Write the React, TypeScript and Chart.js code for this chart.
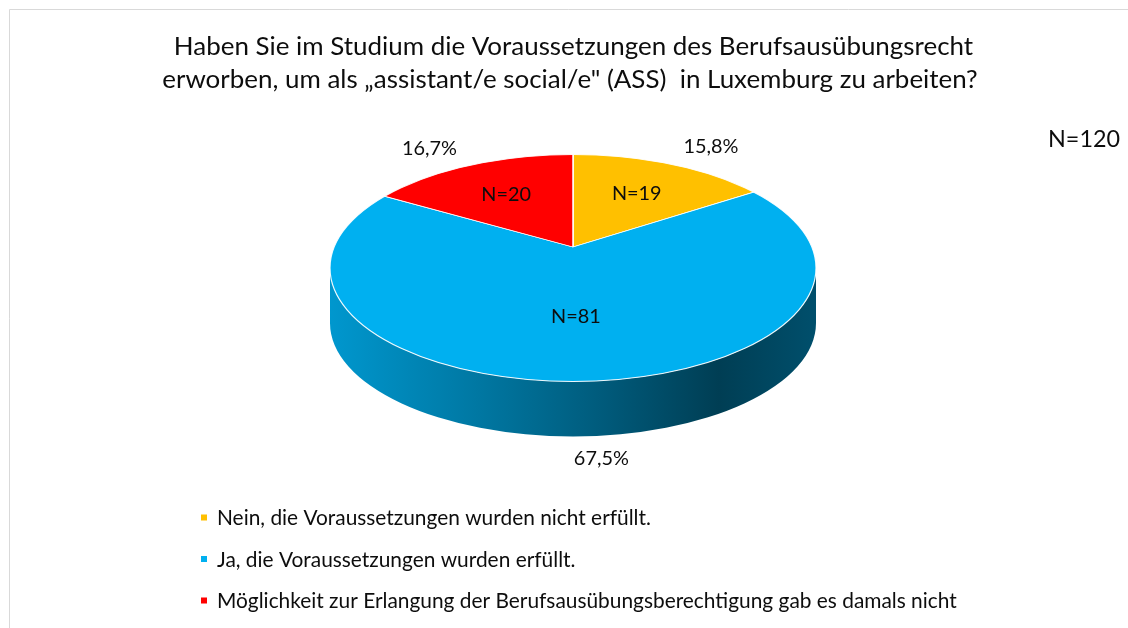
import React, { useEffect, useRef } from "react";
import { Chart, registerables } from "chart.js";

Chart.register(...registerables);

// ---------- data ----------
const titleLines = [
  "Haben Sie im Studium die Voraussetzungen des Berufsausübungsrecht",
  "erworben, um als „assistant/e social/e\" (ASS)  in Luxemburg zu arbeiten?",
];
const categories = [
  "Nein, die Voraussetzungen wurden nicht erfüllt.",
  "Ja, die Voraussetzungen wurden erfüllt.",
  "Möglichkeit zur Erlangung der Berufsausübungsberechtigung gab es damals nicht",
];
const counts = [19, 81, 20];
const sliceColors = ["#FFC000", "#00B0F0", "#FF0000"];

const total = counts.reduce((a, b) => a + b, 0);
const percentLabels = counts.map((v) => (Math.round((v / total) * 1000) / 10).toFixed(1).replace(".", ",") + "%");
const countLabels = counts.map((v) => "N=" + v);
const totalLabel = "N=" + total;

// ---------- style / geometry ----------
const FONT = "Lato, 'Open Sans', sans-serif";
const TEXT_COLOR = "#0d0d0d";
const RX = 243; // horizontal radius of the top face
const RY = 113.5; // vertical radius of the top face
const KY = RY / RX; // vertical squash
const VOFF = 21; // perspective: ellipse centre lies below the slice vertex
const DEPTH = 55; // thickness of the pie

function fitSize(ctx: CanvasRenderingContext2D, text: string, width: number) {
  ctx.font = `100px ${FONT}`;
  const w = ctx.measureText(text).width;
  return (100 * width) / w;
}

function shade(hex: string, f: number) {
  const n = parseInt(hex.slice(1), 16);
  const r = Math.round(((n >> 16) & 255) * f);
  const g = Math.round(((n >> 8) & 255) * f);
  const b = Math.round((n & 255) * f);
  return `rgb(${r},${g},${b})`;
}

function drawCentered(ctx: CanvasRenderingContext2D, text: string, x: number, yc: number, size: number) {
  ctx.font = `${size}px ${FONT}`;
  const cap = ctx.measureText("N").actualBoundingBoxAscent;
  ctx.textAlign = "center";
  ctx.textBaseline = "alphabetic";
  ctx.fillText(text, x, yc + cap / 2);
}

// ellipse parameter where a ray from the vertex at chart-angle theta meets the rim
function rimParam(theta: number) {
  const dx = Math.cos(theta);
  const dy = KY * Math.sin(theta);
  const oy = -VOFF; // vertex relative to ellipse centre
  const a = (dx / RX) ** 2 + (dy / RY) ** 2;
  const b = (2 * oy * dy) / (RY * RY);
  const c = (oy / RY) ** 2 - 1;
  const t = (-b + Math.sqrt(b * b - 4 * a * c)) / (2 * a);
  const px = dx * t;
  const py = oy + dy * t;
  let phi = Math.atan2(py / RY, px / RX);
  while (phi - theta > Math.PI) phi -= 2 * Math.PI;
  while (theta - phi > Math.PI) phi += 2 * Math.PI;
  return phi;
}

const pie3d = {
  id: "pie3d",
  beforeDraw(chart: any) {
    const ctx = chart.ctx as CanvasRenderingContext2D;
    ctx.save();
    ctx.fillStyle = "#ffffff";
    ctx.fillRect(0, 0, chart.width, chart.height);
    ctx.strokeStyle = "#d9d9d9";
    ctx.lineWidth = 1;
    ctx.beginPath();
    ctx.moveTo(9.5, chart.height);
    ctx.lineTo(9.5, 9.5);
    ctx.lineTo(chart.width, 9.5);
    ctx.stroke();
    ctx.restore();
  },
  beforeDatasetsDraw(chart: any) {
    const ctx = chart.ctx as CanvasRenderingContext2D;
    const arcs = chart.getDatasetMeta(0).data as any[];
    chart.$pieSaved = false;
    if (!arcs.length) return;
    const { x: vx, y: vy } = arcs[0].getProps(["x", "y"], true);
    const ecx = vx;
    const ecy = vy + VOFF;
    // side wall
    arcs.forEach((arc, i) => {
      const { startAngle, endAngle } = arc.getProps(["startAngle", "endAngle"], true);
      const a0 = Math.max(rimParam(startAngle), 0);
      const a1 = Math.min(rimParam(endAngle), Math.PI);
      if (a1 <= a0) return;
      const base = sliceColors[i];
      const g = ctx.createLinearGradient(ecx - RX, 0, ecx + RX, 0);
      g.addColorStop(0, shade(base, 0.86));
      g.addColorStop(0.3, shade(base, 0.68));
      g.addColorStop(0.55, shade(base, 0.52));
      g.addColorStop(0.8, shade(base, 0.35));
      g.addColorStop(1, shade(base, 0.45));
      ctx.save();
      ctx.beginPath();
      ctx.ellipse(ecx, ecy, RX, RY, 0, a0, a1, false);
      ctx.ellipse(ecx, ecy + DEPTH, RX, RY, 0, a1, a0, true);
      ctx.closePath();
      ctx.fillStyle = g;
      ctx.fill();
      ctx.restore();
    });
    // top face: clip to rim ellipse, squash around the vertex
    ctx.save();
    ctx.beginPath();
    ctx.ellipse(ecx, ecy, RX, RY, 0, 0, Math.PI * 2);
    ctx.clip();
    ctx.translate(vx, vy);
    ctx.scale(1, KY);
    ctx.translate(-vx, -vy);
    chart.$pieSaved = true;
  },
  afterDatasetsDraw(chart: any) {
    const ctx = chart.ctx as CanvasRenderingContext2D;
    if (chart.$pieSaved) ctx.restore();
    chart.$pieSaved = false;
    const arcs = chart.getDatasetMeta(0).data as any[];
    if (!arcs.length) return;
    const { x: vx, y: vy } = arcs[0].getProps(["x", "y"], true);
    ctx.save();
    ctx.strokeStyle = "rgba(255,255,255,0.9)";
    ctx.lineWidth = 1.2;
    ctx.beginPath();
    ctx.ellipse(vx, vy + VOFF, RX, RY, 0, 0, Math.PI * 2);
    ctx.stroke();
    ctx.restore();
  },
  afterDraw(chart: any) {
    const ctx = chart.ctx as CanvasRenderingContext2D;
    const arcs = chart.getDatasetMeta(0).data as any[];
    ctx.save();
    ctx.fillStyle = TEXT_COLOR;

    // title
    const titleSize = fitSize(ctx, titleLines[1], 816);
    ctx.font = `${titleSize}px ${FONT}`;
    ctx.textAlign = "center";
    ctx.textBaseline = "alphabetic";
    ctx.fillText(titleLines[0], 573.5, 55);
    ctx.fillText(titleLines[1], 570, 88);

    // total
    const totalSize = fitSize(ctx, totalLabel, 72);
    ctx.font = `${totalSize}px ${FONT}`;
    ctx.textAlign = "right";
    ctx.fillText(totalLabel, 1120, 146.5);

    // slice labels
    const labelSize = fitSize(ctx, percentLabels[2], 55);
    if (arcs.length) {
      const { x: vx, y: vy } = arcs[0].getProps(["x", "y"], true);
      const cx = vx;
      const cy = vy + VOFF;
      arcs.forEach((arc, i) => {
        const { startAngle, endAngle } = arc.getProps(["startAngle", "endAngle"], true);
        const mid = (startAngle + endAngle) / 2;
        const c = Math.cos(mid);
        const s = Math.sin(mid);
        const big = endAngle - startAngle > Math.PI;
        const fx = big ? 0.45 : 0.55;
        const fy = big ? 0.42 : 0.75;
        ctx.fillStyle = TEXT_COLOR;
        drawCentered(ctx, countLabels[i], cx + RX * fx * c, cy + RY * fy * s, labelSize);
        // outside percentage
        const rimX = cx + RX * c;
        const rimY = cy + RY * s + (s > 0 ? DEPTH : 0);
        const ox = rimX + 22 * Math.sign(c);
        const oy = rimY + 22 * Math.sign(s);
        drawCentered(ctx, percentLabels[i], ox, oy, labelSize);
      });
    }

    // legend
    const legendSize = fitSize(ctx, categories[2], 740);
    const rows = [525, 566.5, 608];
    categories.forEach((cat, i) => {
      ctx.font = `${legendSize}px ${FONT}`;
      const cap = ctx.measureText("N").actualBoundingBoxAscent;
      ctx.fillStyle = sliceColors[i];
      ctx.fillRect(201, rows[i] - cap / 2 - 3, 6, 6);
      ctx.fillStyle = TEXT_COLOR;
      ctx.textAlign = "left";
      ctx.textBaseline = "alphabetic";
      ctx.fillText(cat, 217, rows[i]);
    });
    ctx.restore();
  },
};

export default function App() {
  const canvasRef = useRef<HTMLCanvasElement | null>(null);

  useEffect(() => {
    const canvas = canvasRef.current;
    if (!canvas) return;
    const chart = new Chart(canvas, {
      type: "pie",
      data: {
        labels: categories,
        datasets: [
          {
            data: counts,
            backgroundColor: sliceColors,
            borderColor: "#FFFFFF",
            borderWidth: 1.5,
            radius: 300,
          } as any,
        ],
      },
      options: {
        responsive: false,
        animation: false,
        events: [],
        layout: { padding: { left: 330, right: 312, top: 25, bottom: 159 } },
        plugins: {
          legend: { display: false },
          title: { display: false },
          tooltip: { enabled: false },
        },
      },
      plugins: [pie3d as any],
    });
    return () => chart.destroy();
  }, []);

  return (
    <div style={{ position: "absolute", left: 0, top: 0, width: 1128, height: 628, background: "#fff" }}>
      <canvas ref={canvasRef} width={1128} height={628} style={{ display: "block" }} />
    </div>
  );
}
